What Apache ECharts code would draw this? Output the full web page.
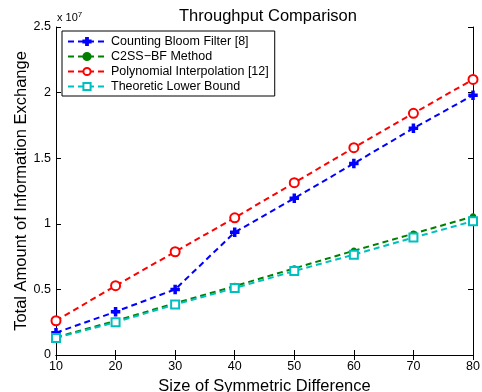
<!DOCTYPE html>
<html>
<head>
<meta charset="utf-8">
<script src="https://cdn.jsdelivr.net/npm/echarts@6/dist/echarts.min.js"></script>
<style>
  html, body { margin: 0; padding: 0; background: #fff; }
  #chart { width: 482px; height: 392px; }
</style>
</head>
<body>
<div id="chart"></div>
<script>
const sizes = [10, 20, 30, 40, 50, 60, 70, 80];
// values in units of 1e7
const countingBloom = [0.17, 0.33, 0.5, 0.935, 1.194, 1.46, 1.728, 1.98];
const c2ssBf = [0.135, 0.26, 0.395, 0.525, 0.66, 0.795, 0.925, 1.055];
const polyInterp = [0.261, 0.528, 0.787, 1.046, 1.313, 1.58, 1.842, 2.1];
const lowerBound = [0.13, 0.25, 0.385, 0.51, 0.64, 0.765, 0.895, 1.02];
const yTicks = ["0", "0.5", "1", "1.5", "2", "2.5"];

const font = "Liberation Sans, Arial, sans-serif";
const pair = (arr) => sizes.map((x, i) => [x, arr[i]]);
const plusPath = "path://M-1,-4 L1,-4 L1,-1 L4,-1 L4,1 L1,1 L1,4 L-1,4 L-1,1 L-4,1 L-4,-1 L-1,-1 Z";

const makeSeries = (name, data, color, symbol, size) => ({
  name: name,
  type: "line",
  data: pair(data),
  symbol: symbol,
  symbolSize: size,
  itemStyle: { color: color, borderColor: color, borderWidth: 1.5 },
  lineStyle: { color: color, width: 2, type: [6, 4] },
  emphasis: { disabled: true },
  z: 3,
});

const chart = echarts.init(document.getElementById("chart"));
chart.setOption({
  animation: false,
  backgroundColor: "#fff",
  textStyle: { fontFamily: font },
  title: {
    text: "Throughput Comparison",
    left: 263, top: 3, textAlign: "center",
    textStyle: { fontFamily: font, fontSize: 16.5, fontWeight: "normal", color: "#000" },
  },
  grid: { left: 56, right: 9, top: 27, bottom: 37, outerBoundsMode: "none" },
  legend: {
    orient: "vertical",
    left: 62, top: 31,
    padding: [4, 6, 3, 5],
    itemGap: 2,
    itemWidth: 38, itemHeight: 9,
    backgroundColor: "#fff",
    borderColor: "#000", borderWidth: 1, borderRadius: 0,
    textStyle: { fontFamily: font, fontSize: 12.5, color: "#000" },
    data: ["Counting Bloom Filter [8]", "C2SS\u2212BF Method", "Polynomial Interpolation [12]", "Theoretic Lower Bound"],
  },
  xAxis: [
    {
      type: "value", min: 10, max: 80, interval: 10,
      name: "Size of Symmetric Difference", nameLocation: "middle", nameGap: 21,
      nameTextStyle: { fontFamily: font, fontSize: 16.5, color: "#000" },
      axisLine: { lineStyle: { color: "#000", width: 1 } },
      axisTick: { inside: true, length: 5, lineStyle: { color: "#000" } },
      axisLabel: { color: "#000", fontSize: 12.5, fontFamily: font, margin: 5 },
      splitLine: { show: false },
    },
    {
      type: "value", min: 10, max: 80, interval: 10, position: "top",
      axisLine: { lineStyle: { color: "#000", width: 1 } },
      axisTick: { inside: true, length: 5, lineStyle: { color: "#000" } },
      axisLabel: { show: false },
      splitLine: { show: false },
    },
  ],
  yAxis: [
    {
      type: "value", min: 0, max: 2.5, interval: 0.5,
      name: "Total Amount of Information Exchange", nameLocation: "middle", nameGap: 26,
      nameMoveOverlap: false,
      nameTextStyle: { fontFamily: font, fontSize: 16.5, color: "#000" },
      axisLine: { show: true, lineStyle: { color: "#000", width: 1 } },
      axisTick: { show: true, inside: true, length: 5, lineStyle: { color: "#000" } },
      axisLabel: {
        color: "#000", fontSize: 12.5, fontFamily: font, margin: 5,
        formatter: (v) => yTicks[Math.round(v / 0.5)],
      },
      splitLine: { show: false },
    },
    {
      type: "value", min: 0, max: 2.5, interval: 0.5, position: "right",
      axisLine: { show: true, lineStyle: { color: "#000", width: 1 } },
      axisTick: { show: true, inside: true, length: 5, lineStyle: { color: "#000" } },
      axisLabel: { show: false },
      splitLine: { show: false },
    },
  ],
  graphic: [
    {
      type: "text", left: 57, top: 11,
      style: {
        text: "x 10{s|7}",
        font: "11px " + font,
        fill: "#000",
        rich: { s: { fontSize: 8, verticalAlign: "top", padding: [0, 0, 6, 0] } },
      },
    },
  ],
  series: [
    makeSeries("Counting Bloom Filter [8]", countingBloom, "#0000ff", plusPath, 8),
    makeSeries("C2SS\u2212BF Method", c2ssBf, "#008000", "circle", 5),
    makeSeries("Polynomial Interpolation [12]", polyInterp, "#ff0000", "emptyCircle", 9),
    makeSeries("Theoretic Lower Bound", lowerBound, "#00bfbf", "emptyRect", 8),
  ],
});
</script>
</body>
</html>
